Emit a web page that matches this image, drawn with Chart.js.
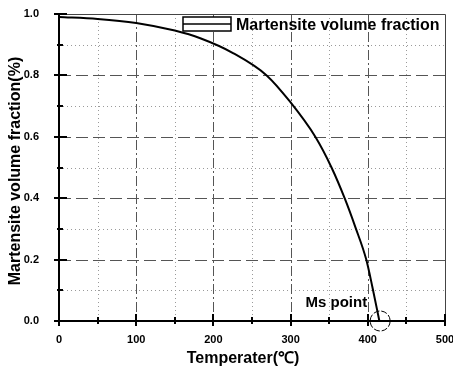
<!DOCTYPE html>
<html>
<head>
<meta charset="utf-8">
<script src="https://cdn.jsdelivr.net/npm/chart.js@4/dist/chart.umd.min.js"></script>
<style>
  html, body { margin: 0; padding: 0; background: #fff; }
  #wrap { width: 453px; height: 370px; position: relative; }
</style>
</head>
<body>
<div id="wrap"><canvas id="c" width="453" height="370"></canvas></div>
<script>
// Temperature (°C) and martensite volume fraction along the cooling curve
const temperatures = [0, 50, 100, 150, 183, 226, 269, 299, 332, 353, 370, 384, 398, 406, 415];
const fractions    = [0.99, 0.984, 0.971, 0.946, 0.921, 0.872, 0.80, 0.715, 0.60, 0.50, 0.40, 0.305, 0.20, 0.11, 0.0];

const xTicks = [0, 100, 200, 300, 400, 500];
const yTicks = [0.0, 0.2, 0.4, 0.6, 0.8, 1.0];
const xMinor = [50, 150, 250, 350, 450];
const yMinor = [0.1, 0.3, 0.5, 0.7, 0.9];

const seriesName = 'Martensite volume fraction';
const xTitle = 'Temperater(℃)';
const yTitle = 'Martensite volume fraction(%)';
const msPoint = { t: 416, f: 0.0, label: 'Ms point' };

const FAMILY = '"Liberation Sans", Arial, sans-serif';

// Grid, frame, tick marks, axis titles, legend and the Ms annotation
const framePlugin = {
  id: 'frame',
  beforeDatasetsDraw(chart) {
    const { ctx, chartArea: a, scales: { x, y } } = chart;
    ctx.save();
    // minor dotted grid
    ctx.strokeStyle = '#9a9a9a';
    ctx.lineWidth = 1;
    ctx.setLineDash([1, 3]);
    yMinor.forEach(v => {
      const py = Math.round(y.getPixelForValue(v)) + 0.5;
      ctx.beginPath(); ctx.moveTo(a.left, py); ctx.lineTo(a.right, py); ctx.stroke();
    });
    xMinor.forEach(v => {
      const px = Math.round(x.getPixelForValue(v)) + 0.5;
      ctx.beginPath(); ctx.moveTo(px, a.top); ctx.lineTo(px, a.bottom); ctx.stroke();
    });
    // major dashed grid
    ctx.strokeStyle = '#555';
    ctx.setLineDash([12, 5]);
    yTicks.slice(1, -1).forEach(v => {
      const py = Math.round(y.getPixelForValue(v)) + 0.5;
      ctx.beginPath(); ctx.moveTo(a.left, py); ctx.lineTo(a.right, py); ctx.stroke();
    });
    ctx.setLineDash([10, 3, 2, 3]);
    xTicks.slice(1, -1).forEach(v => {
      const px = Math.round(x.getPixelForValue(v)) + 0.5;
      ctx.beginPath(); ctx.moveTo(px, a.top); ctx.lineTo(px, a.bottom); ctx.stroke();
    });
    // top and right frame
    ctx.setLineDash([]);
    ctx.strokeStyle = '#444';
    ctx.beginPath();
    ctx.moveTo(a.left, a.top + 0.5); ctx.lineTo(a.right + 0.5, a.top + 0.5);
    ctx.lineTo(a.right + 0.5, a.bottom);
    ctx.stroke();
    ctx.restore();
  },
  afterDatasetsDraw(chart) {
    const { ctx, chartArea: a, scales: { x, y } } = chart;
    ctx.save();
    // axes
    ctx.strokeStyle = '#000';
    ctx.lineWidth = 2;
    ctx.beginPath();
    ctx.moveTo(a.left, a.top); ctx.lineTo(a.left, a.bottom); ctx.lineTo(a.right + 1, a.bottom);
    ctx.stroke();
    // tick marks
    yTicks.forEach(v => {
      const py = Math.round(y.getPixelForValue(v));
      ctx.beginPath(); ctx.moveTo(a.left - 5, py); ctx.lineTo(a.left + 8, py); ctx.stroke();
    });
    yMinor.forEach(v => {
      const py = Math.round(y.getPixelForValue(v));
      ctx.beginPath(); ctx.moveTo(a.left - 2, py); ctx.lineTo(a.left + 4, py); ctx.stroke();
    });
    xTicks.forEach(v => {
      const px = Math.round(x.getPixelForValue(v));
      ctx.beginPath(); ctx.moveTo(px, a.bottom + 5); ctx.lineTo(px, a.bottom - 7); ctx.stroke();
    });
    xMinor.forEach(v => {
      const px = Math.round(x.getPixelForValue(v));
      ctx.beginPath(); ctx.moveTo(px, a.bottom + 3); ctx.lineTo(px, a.bottom - 4); ctx.stroke();
    });
    // axis titles
    ctx.fillStyle = '#000';
    ctx.textBaseline = 'middle';
    ctx.textAlign = 'center';
    ctx.font = 'bold 16px ' + FAMILY;
    ctx.fillText(xTitle, 243, 359);
    ctx.save();
    ctx.translate(16, 171);
    ctx.rotate(-Math.PI / 2);
    ctx.fillText(yTitle, 0, 0);
    ctx.restore();
    // legend
    ctx.lineWidth = 1.5;
    ctx.strokeStyle = '#000';
    ctx.fillStyle = '#fff';
    ctx.fillRect(183, 17, 48, 14);
    ctx.strokeRect(183, 17, 48, 14);
    ctx.beginPath(); ctx.moveTo(183, 24); ctx.lineTo(231, 24); ctx.stroke();
    ctx.fillStyle = '#000';
    ctx.font = 'bold 16px ' + FAMILY;
    ctx.textAlign = 'left';
    ctx.fillText(seriesName, 236, 26);
    // Ms point annotation
    const cx = x.getPixelForValue(msPoint.t), cy = y.getPixelForValue(msPoint.f);
    ctx.lineWidth = 1;
    ctx.setLineDash([6, 2]);
    ctx.beginPath(); ctx.arc(cx, cy, 10, 0, Math.PI * 2); ctx.stroke();
    ctx.setLineDash([]);
    ctx.font = 'bold 15px ' + FAMILY;
    ctx.textAlign = 'right';
    ctx.fillText(msPoint.label, cx - 13, cy - 18);
    ctx.restore();
  }
};

// keep the plot box fixed regardless of tick-label overhang
function noOverhang(s) {
  s.paddingLeft = 0; s.paddingRight = 0; s.paddingTop = 0; s.paddingBottom = 0;
}

new Chart(document.getElementById('c'), {
  type: 'line',
  data: {
    datasets: [{
      label: seriesName,
      data: temperatures.map((t, i) => ({ x: t, y: fractions[i] })),
      borderColor: '#000',
      borderWidth: 2,
      pointRadius: 0,
      cubicInterpolationMode: 'monotone',
      fill: false
    }]
  },
  options: {
    responsive: false,
    animation: false,
    layout: { padding: { top: 14, right: 8, left: 0, bottom: 0 } },
    plugins: { legend: { display: false }, tooltip: { enabled: false } },
    scales: {
      x: {
        type: 'linear', min: 0, max: 500,
        afterFit(s) { s.height = 49; noOverhang(s); },
        afterBuildTicks(s) { s.ticks = xTicks.map(v => ({ value: v })); },
        grid: { display: false },
        border: { display: false },
        ticks: { color: '#000', font: { family: FAMILY, size: 11, weight: 'bold' }, padding: 4, maxRotation: 0 }
      },
      y: {
        type: 'linear', min: 0, max: 1,
        afterFit(s) { s.width = 59; noOverhang(s); },
        afterBuildTicks(s) { s.ticks = yTicks.map(v => ({ value: v })); },
        grid: { display: false },
        border: { display: false },
        ticks: { color: '#000', font: { family: FAMILY, size: 11, weight: 'bold' }, padding: 12, callback: v => v.toFixed(1) }
      }
    }
  },
  plugins: [framePlugin]
});
</script>
</body>
</html>
